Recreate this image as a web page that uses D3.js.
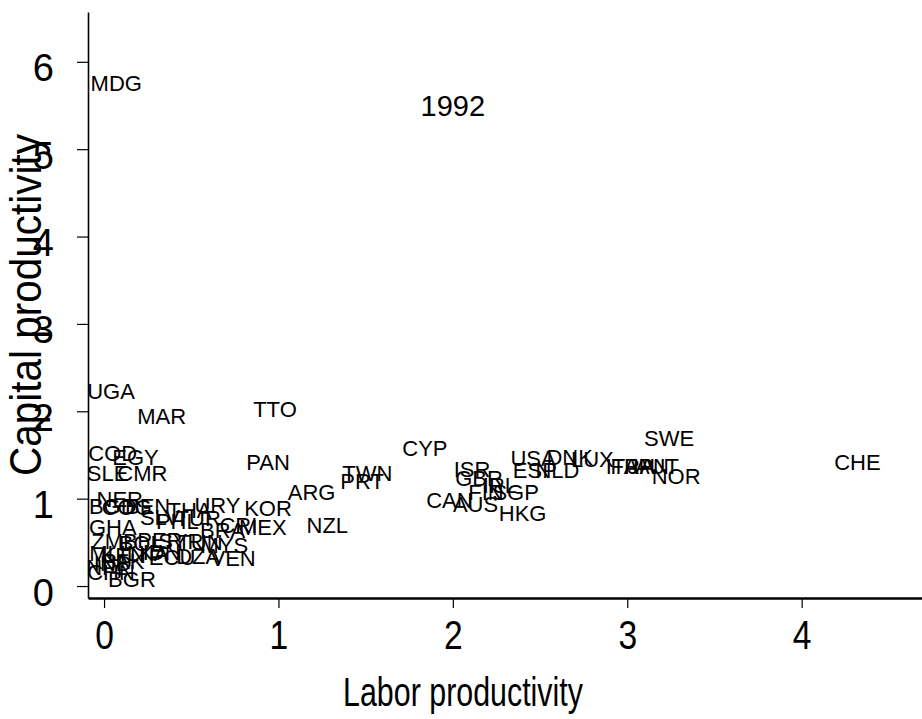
<!DOCTYPE html>
<html>
<head>
<meta charset="utf-8">
<script src="https://cdn.jsdelivr.net/npm/d3@7"></script>
<style>
  html, body { margin: 0; padding: 0; background: #fff; }
  svg { display: block; font-family: "Liberation Sans", Arial, sans-serif; }
</style>
</head>
<body>
<svg id="chart" width="922" height="719"></svg>
<script>
// ---- data ----
const codes = ["MDG","UGA","MAR","TTO","COD","EGY","PAN","SLE","CMR","CYP",
  "TWN","PRT","ARG","KOR","NZL","MEX","ISR","GBR","CAN","AUS",
  "FIN","IRL","SGP","HKG","USA","ESP","NLD","DNK","LUX","ITA",
  "FRA","JPN","AUT","NOR","SWE","CHE",
  "NER","BGD","COG","BEN","THA","URY","SLV","TUR","PHL","GHA",
  "CRI","BRA","ZMB","BOL","PER","SYR","TUN","MYS","MLI","KEN",
  "LKA","IDN","ECU","DZA","VEN","IND","NPL","PAK","CHN","BGR"];
const laborProd = [0.07,0.04,0.33,0.98,0.05,0.18,0.94,0.02,0.22,1.84,
  1.51,1.48,1.19,0.94,1.28,0.91,2.11,2.15,1.98,2.13,
  2.19,2.27,2.36,2.40,2.46,2.47,2.60,2.67,2.80,2.97,
  3.03,3.12,3.17,3.28,3.24,4.32,
  0.09,0.05,0.13,0.25,0.49,0.65,0.32,0.54,0.42,0.05,
  0.77,0.68,0.06,0.21,0.32,0.44,0.55,0.69,0.02,0.11,
  0.25,0.33,0.39,0.54,0.74,0.05,0.02,0.11,0.04,0.16];
const capitalProd = [5.76,2.23,1.95,2.03,1.52,1.48,1.42,1.29,1.29,1.58,
  1.29,1.20,1.08,0.89,0.70,0.68,1.34,1.24,0.98,0.94,
  1.08,1.16,1.08,0.84,1.47,1.33,1.33,1.48,1.45,1.37,
  1.37,1.37,1.37,1.26,1.69,1.42,
  1.00,0.92,0.90,0.92,0.87,0.93,0.79,0.78,0.74,0.68,
  0.70,0.64,0.52,0.49,0.53,0.52,0.50,0.47,0.38,0.35,
  0.38,0.39,0.33,0.34,0.32,0.26,0.22,0.29,0.16,0.08];
const xTicks = [0,1,2,3,4];
const yTicks = [0,1,2,3,4,5,6];
const xTitle = "Labor productivity";
const yTitle = "Capital productivity";
const yearText = "1992";
const yearPos = [2, 5.5];

// ---- layout ----
const svg = d3.select("#chart");
const plotLeft = 88, plotRight = 922, plotTop = 12, plotBottom = 598;
const x = d3.scaleLinear().domain([-0.092, 4.69]).range([plotLeft, plotRight]);
const y = d3.scaleLinear().domain([-0.137, 6.57]).range([plotBottom, plotTop]);

// x axis
const gx = svg.append("g").attr("transform", `translate(0,${plotBottom})`)
  .call(d3.axisBottom(x).tickValues(xTicks).tickFormat(d3.format("d")).tickSize(10).tickSizeOuter(0));
gx.select(".domain").attr("stroke", "#000").attr("stroke-width", 2.5);
gx.selectAll(".tick line").attr("stroke", "#000").attr("stroke-width", 1.2);
gx.selectAll(".tick text").attr("font-size", 41).attr("fill", "#000")
  .attr("font-family", "Liberation Sans, Arial, sans-serif")
  .attr("transform", "scale(0.82,1)")
  .attr("y", 51).attr("dy", null);

// y axis
const gy = svg.append("g").attr("transform", `translate(${plotLeft},0)`)
  .call(d3.axisLeft(y).tickValues(yTicks).tickFormat(d3.format("d")).tickSize(11).tickSizeOuter(0));
gy.select(".domain").attr("stroke", "#000").attr("stroke-width", 1.6);
gy.selectAll(".tick line").attr("stroke", "#000").attr("stroke-width", 1.2);
gy.selectAll(".tick text").attr("font-size", 38).attr("fill", "#000")
  .attr("font-family", "Liberation Sans, Arial, sans-serif")
  .attr("x", -34).attr("dy", "0.5em");

// axis titles
svg.append("text").attr("transform", `translate(463,706) scale(0.76,1)`)
  .attr("text-anchor", "middle").attr("font-size", 40).attr("fill", "#000").text(xTitle);
svg.append("text").attr("transform", `translate(41,${(plotTop + plotBottom) / 2}) rotate(-90) scale(0.92,1)`)
  .attr("text-anchor", "middle").attr("font-size", 44).attr("fill", "#000").text(yTitle);

// labels as markers
const data = codes.map((c, i) => ({code: c, lx: laborProd[i], cy: capitalProd[i]}));
svg.append("g").selectAll("text").data(data).join("text")
  .attr("x", d => x(d.lx)).attr("y", d => y(d.cy))
  .attr("dy", "0.36em").attr("text-anchor", "middle")
  .attr("font-size", 22).attr("fill", "#000").text(d => d.code);

// year annotation
svg.append("text").attr("x", x(yearPos[0])).attr("y", y(yearPos[1]))
  .attr("dy", "0.36em").attr("text-anchor", "middle")
  .attr("font-size", 29).attr("fill", "#000").text(yearText);
</script>
</body>
</html>
